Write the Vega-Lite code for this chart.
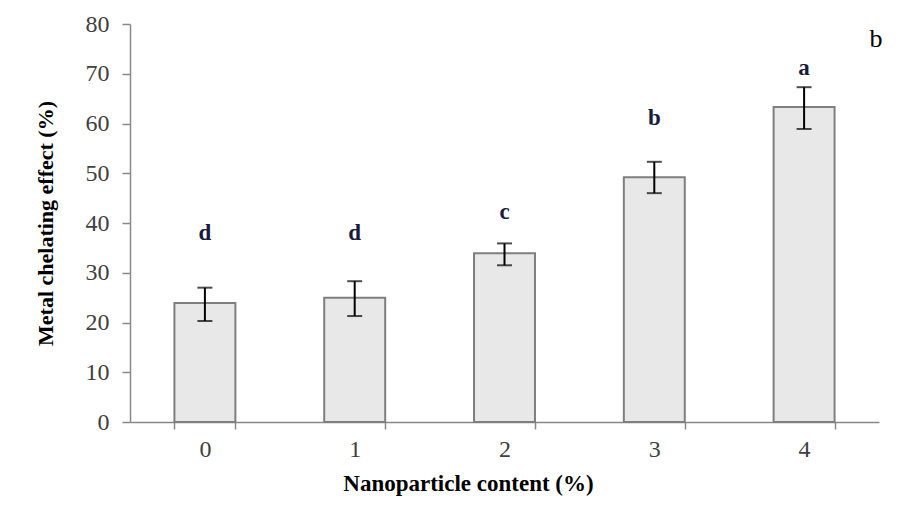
{
  "$schema": "https://vega.github.io/schema/vega-lite/v6.json",
  "autosize": "none",
  "width": 749,
  "height": 398,
  "padding": {"left": 130, "top": 24, "right": 20, "bottom": 84},
  "background": "white",
  "config": {
    "view": {"stroke": null},
    "font": "Liberation Serif"
  },
  "data": {
    "values": [
      {"content": "0", "effect": 23.9, "lo": 20.3, "hi": 27.0, "letter": "d", "letterY": 38.0},
      {"content": "1", "effect": 25.0, "lo": 21.3, "hi": 28.3, "letter": "d", "letterY": 38.0},
      {"content": "2", "effect": 33.9, "lo": 31.5, "hi": 35.9, "letter": "c", "letterY": 42.2},
      {"content": "3", "effect": 49.2, "lo": 46.0, "hi": 52.3, "letter": "b", "letterY": 61.1},
      {"content": "4", "effect": 63.3, "lo": 58.9, "hi": 67.3, "letter": "a", "letterY": 71.2}
    ]
  },
  "encoding": {
    "x": {
      "field": "content",
      "type": "nominal",
      "sort": null,
      "scale": {"paddingInner": 0.593, "paddingOuter": 0.2965},
      "axis": {
        "title": "Nanoparticle content (%)",
        "titleFont": "Liberation Serif",
        "titleFontSize": 23,
        "titleFontWeight": "bold",
        "titleColor": "#000000",
        "titlePadding": 11,
        "titleX": 338,
        "labelAngle": 0,
        "labelFont": "Liberation Serif",
        "labelFontSize": 24,
        "labelColor": "#404040",
        "labelPadding": 8,
        "tickBand": "extent",
        "tickSize": 7,
        "tickColor": "#888888",
        "tickWidth": 1.5,
        "domainColor": "#888888",
        "domainWidth": 1.5,
        "grid": false
      }
    }
  },
  "layer": [
    {
      "mark": {"type": "bar", "fill": "#e8e8e8", "stroke": "#7f7f7f", "strokeWidth": 2},
      "encoding": {
        "y": {
          "field": "effect",
          "type": "quantitative",
          "scale": {"domain": [0, 80], "nice": false},
          "axis": {
            "title": "Metal chelating effect (%)",
            "titleFont": "Liberation Serif",
            "titleFontSize": 22,
            "titleFontWeight": "bold",
            "titleColor": "#000000",
            "titlePadding": 28,
            "values": [0, 10, 20, 30, 40, 50, 60, 70, 80],
            "labelFont": "Liberation Serif",
            "labelFontSize": 24,
            "labelColor": "#404040",
            "labelPadding": 13,
            "tickSize": 8,
            "tickColor": "#888888",
            "tickWidth": 1.5,
            "domainColor": "#888888",
            "domainWidth": 1.5,
            "grid": false
          }
        }
      }
    },
    {
      "mark": {"type": "rule", "color": "#000000", "strokeWidth": 2},
      "encoding": {
        "y": {"field": "lo", "type": "quantitative"},
        "y2": {"field": "hi"}
      }
    },
    {
      "mark": {"type": "tick", "color": "#000000", "thickness": 2, "size": 15, "orient": "horizontal"},
      "encoding": {"y": {"field": "lo", "type": "quantitative"}}
    },
    {
      "mark": {"type": "tick", "color": "#000000", "thickness": 2, "size": 15, "orient": "horizontal"},
      "encoding": {"y": {"field": "hi", "type": "quantitative"}}
    },
    {
      "mark": {"type": "text", "font": "Liberation Serif", "fontSize": 23, "fontWeight": "bold", "color": "#1a1a3a", "baseline": "middle", "align": "center"},
      "encoding": {
        "y": {"field": "letterY", "type": "quantitative"},
        "text": {"field": "letter"}
      }
    },
    {
      "data": {"values": [{"content": "4", "panel": "b", "pos": 77}]},
      "mark": {"type": "text", "font": "Liberation Serif", "fontSize": 26, "color": "#000000", "baseline": "middle", "align": "center", "xOffset": 72},
      "encoding": {
        "y": {"field": "pos", "type": "quantitative"},
        "text": {"field": "panel"}
      }
    }
  ]
}
